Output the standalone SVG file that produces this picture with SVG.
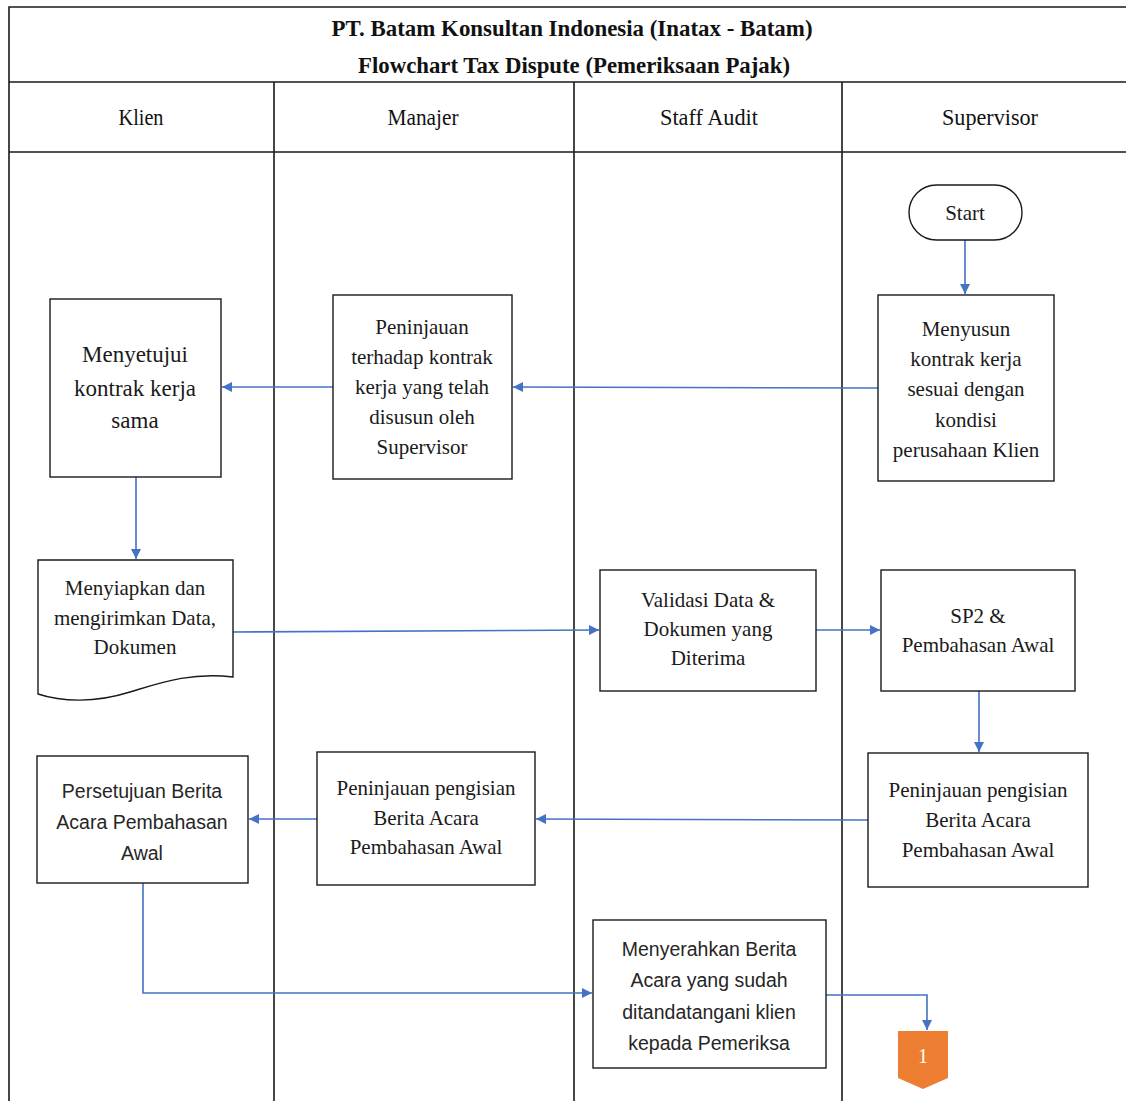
<svg xmlns="http://www.w3.org/2000/svg" width="1126" height="1101" viewBox="0 0 1126 1101">
<style>
.frame{stroke:#1a1a1a;stroke-width:1.6;fill:none}
.box{fill:#fff;stroke:#1a1a1a;stroke-width:1.4}
.t{font-family:"Liberation Serif","Times New Roman",serif;font-size:21px;fill:#1a1a1a;text-anchor:middle}
.big{font-size:23px}
.s{font-family:"Liberation Sans",Arial,sans-serif;font-size:19.5px;fill:#262626;text-anchor:middle}
.title{font-family:"Liberation Serif","Times New Roman",serif;font-size:24px;font-weight:bold;fill:#111;text-anchor:middle}
.hdr{font-family:"Liberation Serif","Times New Roman",serif;font-size:24px;fill:#111;text-anchor:middle}
.c{stroke:#4472C4;stroke-width:1.6;fill:none;marker-end:url(#ah)}
</style>
<defs>
<marker id="ah" viewBox="0 0 10 10" refX="10" refY="5" markerWidth="10" markerHeight="10" markerUnits="userSpaceOnUse" orient="auto">
<path d="M0,0 L10,5 L0,10 z" fill="#4472C4"/>
</marker>
</defs>
<rect width="1126" height="1101" fill="#fff"/>
<g id="swimlanes">
<path class="frame" d="M9,1101 V7 H1126 M9,82 H1126 M9,152 H1126 M274,82 V1101 M574,82 V1101 M842,82 V1101"/>
<text class="title" x="572" y="36" textLength="481" lengthAdjust="spacingAndGlyphs">PT. Batam Konsultan Indonesia (Inatax - Batam)</text>
<text class="title" x="574" y="73" textLength="432" lengthAdjust="spacingAndGlyphs">Flowchart Tax Dispute (Pemeriksaan Pajak)</text>
<text class="hdr" x="141" y="125" textLength="45" lengthAdjust="spacingAndGlyphs">Klien</text>
<text class="hdr" x="423" y="125" textLength="71" lengthAdjust="spacingAndGlyphs">Manajer</text>
<text class="hdr" x="709" y="125" textLength="98" lengthAdjust="spacingAndGlyphs">Staff Audit</text>
<text class="hdr" x="990" y="125" textLength="96" lengthAdjust="spacingAndGlyphs">Supervisor</text>
</g>
<g id="connectors">
<path class="c" d="M965,240 V294"/>
<path class="c" d="M878,388 L513,387"/>
<path class="c" d="M333,387 H222"/>
<path class="c" d="M136,477 V559"/>
<path class="c" d="M233,632 L599,630"/>
<path class="c" d="M816,630 H880"/>
<path class="c" d="M979,691 V752"/>
<path class="c" d="M868,820 L536,819"/>
<path class="c" d="M317,819 H249"/>
<path class="c" d="M143,883 V993 H592"/>
<path class="c" d="M826,995 H927 V1030"/>
</g>
<g id="start">
<rect class="box" x="909" y="185" width="113" height="55" rx="27.5"/>
<text class="t" x="965" y="220">Start</text>
</g>
<g id="menyusun">
<rect class="box" x="878" y="295" width="176" height="186"/>
<text class="t" x="966" y="336">Menyusun</text>
<text class="t" x="966" y="366">kontrak kerja</text>
<text class="t" x="966" y="396">sesuai dengan</text>
<text class="t" x="966" y="427">kondisi</text>
<text class="t" x="966" y="457">perusahaan Klien</text>
</g>
<g id="peninjauan-kontrak">
<rect class="box" x="333" y="295" width="179" height="184"/>
<text class="t" x="422" y="334">Peninjauan</text>
<text class="t" x="422" y="364">terhadap kontrak</text>
<text class="t" x="422" y="394">kerja yang telah</text>
<text class="t" x="422" y="424">disusun oleh</text>
<text class="t" x="422" y="454">Supervisor</text>
</g>
<g id="menyetujui">
<rect class="box" x="50" y="299" width="171" height="178"/>
<text class="t big" x="135" y="362">Menyetujui</text>
<text class="t big" x="135" y="396">kontrak kerja</text>
<text class="t big" x="135" y="428">sama</text>
</g>
<g id="menyiapkan">
<path class="box" d="M38,560 H233 V677 C190,672 160,683 130,692 C95,703 62,702 38,694 Z"/>
<text class="t" x="135" y="595">Menyiapkan dan</text>
<text class="t" x="135" y="625">mengirimkan Data,</text>
<text class="t" x="135" y="654">Dokumen</text>
</g>
<g id="validasi">
<rect class="box" x="600" y="570" width="216" height="121"/>
<text class="t" x="708" y="607">Validasi Data &amp;</text>
<text class="t" x="708" y="636">Dokumen yang</text>
<text class="t" x="708" y="665">Diterima</text>
</g>
<g id="sp2">
<rect class="box" x="881" y="570" width="194" height="121"/>
<text class="t" x="978" y="623">SP2 &amp;</text>
<text class="t" x="978" y="652">Pembahasan Awal</text>
</g>
<g id="peninjauan-sup">
<rect class="box" x="868" y="753" width="220" height="134"/>
<text class="t" x="978" y="797">Peninjauan pengisian</text>
<text class="t" x="978" y="827">Berita Acara</text>
<text class="t" x="978" y="857">Pembahasan Awal</text>
</g>
<g id="peninjauan-man">
<rect class="box" x="317" y="752" width="218" height="133"/>
<text class="t" x="426" y="795">Peninjauan pengisian</text>
<text class="t" x="426" y="825">Berita Acara</text>
<text class="t" x="426" y="854">Pembahasan Awal</text>
</g>
<g id="persetujuan">
<rect class="box" x="37" y="756" width="211" height="127"/>
<text class="s" x="142" y="798">Persetujuan Berita</text>
<text class="s" x="142" y="829">Acara Pembahasan</text>
<text class="s" x="142" y="860">Awal</text>
</g>
<g id="menyerahkan">
<rect class="box" x="593" y="920" width="233" height="148"/>
<text class="s" x="709" y="956">Menyerahkan Berita</text>
<text class="s" x="709" y="987">Acara yang sudah</text>
<text class="s" x="709" y="1019">ditandatangani klien</text>
<text class="s" x="709" y="1050">kepada Pemeriksa</text>
</g>
<g id="connector-1">
<path d="M898,1031 H948 V1078 L923,1089 L898,1078 Z" fill="#ED7D31"/>
<text class="t" x="923" y="1063" fill="#fff" style="fill:#fff;font-size:20px">1</text>
</g>
</svg>
